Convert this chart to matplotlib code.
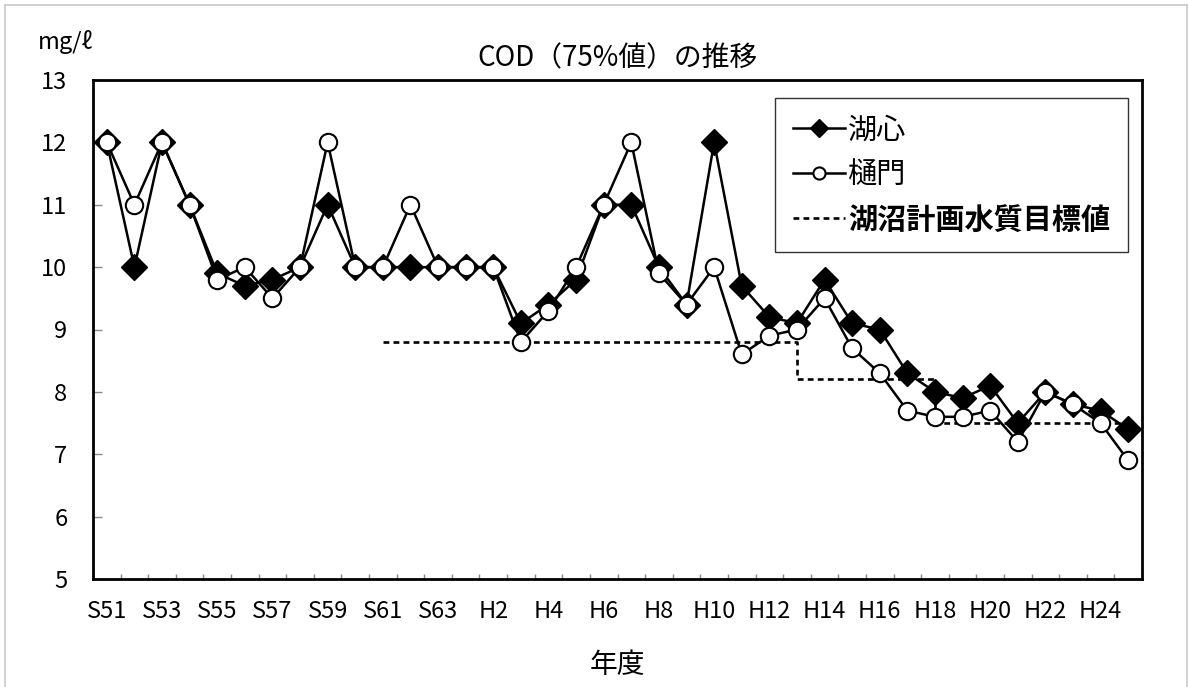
import numpy as np
import matplotlib.pyplot as plt
from matplotlib.lines import Line2D

plt.rcParams['font.family'] = ['Noto Sans CJK JP', 'DejaVu Sans']

# --- Données ---
annees = [f"S{a}" for a in range(51, 64)] + [f"H{a}" for a in range(1, 26)]
koshin = [12, 10, 12, 11, 9.9, 9.7, 9.8, 10, 11, 10, 10, 10, 10, 10, 10, 9.1, 9.4, 9.8, 11, 11,
          10, 9.4, 12, 9.7, 9.2, 9.1, 9.8, 9.1, 9.0, 8.3, 8.0, 7.9, 8.1, 7.5, 8.0, 7.8, 7.7, 7.4]
himon = [12, 11, 12, 11, 9.8, 10, 9.5, 10, 12, 10, 10, 11, 10, 10, 10, 8.8, 9.3, 10, 11, 12,
         9.9, 9.4, 10, 8.6, 8.9, 9.0, 9.5, 8.7, 8.3, 7.7, 7.6, 7.6, 7.7, 7.2, 8.0, 7.8, 7.5, 6.9]
objectif = [np.nan] * 10 + [8.8] * 15 + [8.2] * 5 + [7.5] * 8

x = np.arange(len(annees))

fig = plt.figure(figsize=(11.89, 6.87), dpi=100)
ax = fig.add_axes([93 / 1189, 1 - 579 / 687, (1142 - 93) / 1189, (579 - 80) / 687])

# --- Courbes ---
ax.plot(x, objectif, color="black", lw=1.9, linestyle=(0, (2.2, 1.6)), drawstyle="steps-post",
        label="湖沼計画水質目標値", zorder=2)
ax.plot(x, koshin, color="black", lw=1.8, marker="D", markersize=13, markerfacecolor="black",
        markeredgecolor="black", label="湖心", zorder=3)
ax.plot(x, himon, color="black", lw=1.8, marker="o", markersize=12.5, markerfacecolor="white",
        markeredgecolor="black", markeredgewidth=1.5, label="樋門", zorder=4)

# --- Axes ---
ax.set_xlim(-0.5, len(annees) - 0.5)
ax.set_ylim(5, 13)
ax.set_yticks(range(5, 14))
ax.set_xticks(x[::2])
ax.set_xticklabels(annees[::2])
ax.set_xticks(np.arange(-0.5, len(annees)), minor=True)
ax.tick_params(axis="y", direction="in", length=6.5, width=1, color="#888888", pad=18.5, labelsize=17)
ax.tick_params(axis="x", which="major", length=0, pad=15, labelsize=17)
ax.tick_params(axis="x", which="minor", direction="in", length=3.5, width=1, color="#888888")
for s in ax.spines.values():
    s.set_linewidth(2)

ax.set_title("COD（75%値）の推移", fontsize=20, pad=10)
ax.set_xlabel("年度", fontsize=20)
ax.xaxis.set_label_coords(0.5, -0.172)
ax.xaxis.label.set_verticalalignment("center")
fig.text(38 / 1189, 1 - 42 / 687, "mg/ℓ", fontsize=17, ha="left", va="center")

# --- Légende ---
handles, labels = ax.get_legend_handles_labels()
ordre = [1, 2, 0]
leg = ax.legend([handles[i] for i in ordre], [labels[i] for i in ordre],
                loc="upper left", bbox_to_anchor=(775 / 1189, 1 - 98 / 687),
                bbox_transform=fig.transFigure, borderaxespad=0, fontsize=21,
                markerscale=0.7, handlelength=1.8, handletextpad=0.1, labelspacing=0.5,
                borderpad=0.6, fancybox=False, framealpha=1, edgecolor="#333333")
leg.get_frame().set_linewidth(1)
leg.get_texts()[2].set_fontweight("bold")

# --- Cadre de la figure ---
gris = "#c8c8c8"
fig.add_artist(Line2D([5 / 1189, 5 / 1189], [0, 1 - 5 / 687], color=gris, lw=1.2))
fig.add_artist(Line2D([5 / 1189, 1187 / 1189], [1 - 5 / 687, 1 - 5 / 687], color=gris, lw=1.2))
fig.add_artist(Line2D([1187 / 1189, 1187 / 1189], [0, 1 - 5 / 687], color=gris, lw=1.2))

fig.savefig("out.png", dpi=100)
